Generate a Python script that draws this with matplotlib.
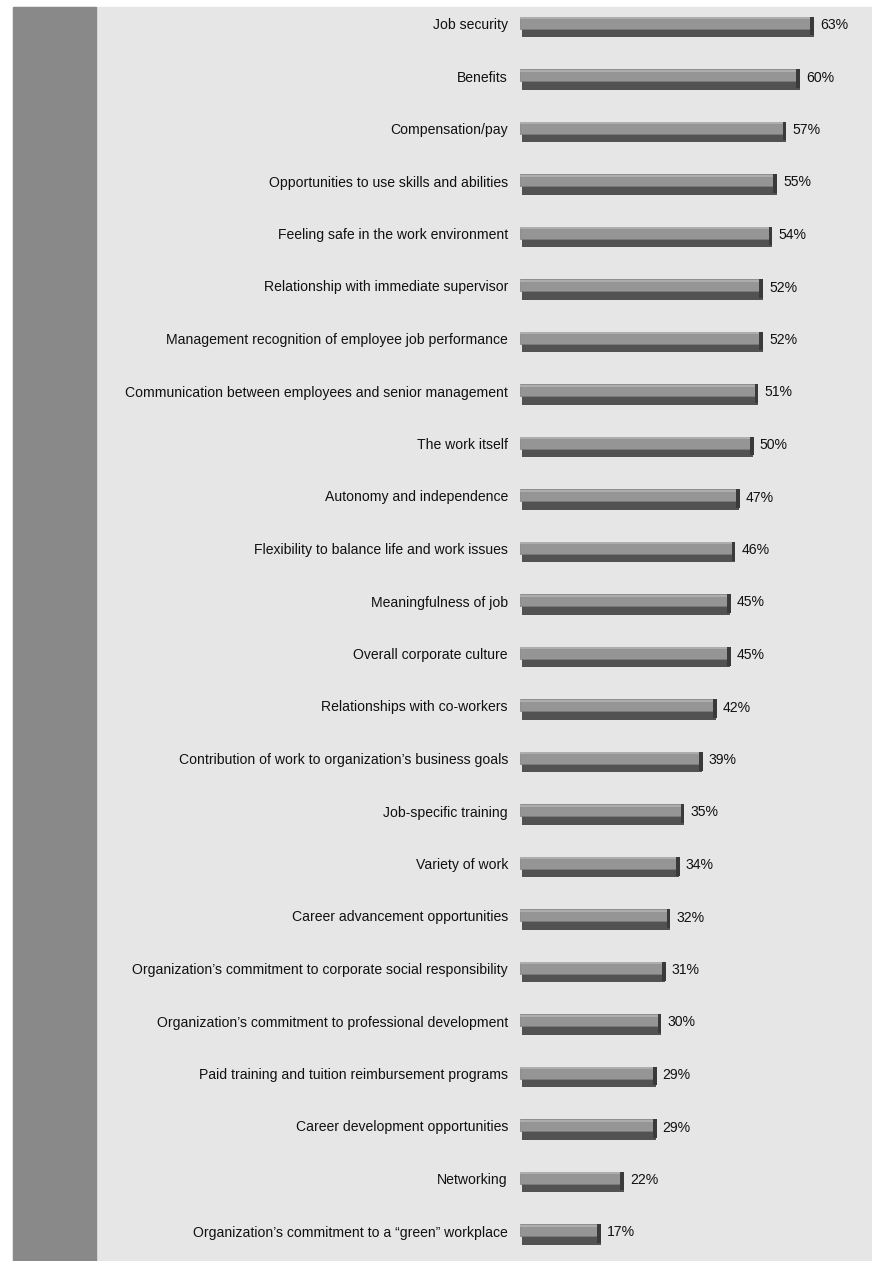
import numpy as np
import matplotlib.pyplot as plt
from matplotlib.patches import Rectangle

factors = ["Job security", "Benefits", "Compensation/pay",
           "Opportunities to use skills and abilities",
           "Feeling safe in the work environment",
           "Relationship with immediate supervisor",
           "Management recognition of employee job performance",
           "Communication between employees and senior management",
           "The work itself", "Autonomy and independence",
           "Flexibility to balance life and work issues",
           "Meaningfulness of job", "Overall corporate culture",
           "Relationships with co-workers",
           "Contribution of work to organization\u2019s business goals",
           "Job-specific training", "Variety of work",
           "Career advancement opportunities",
           "Organization\u2019s commitment to corporate social responsibility",
           "Organization\u2019s commitment to professional development",
           "Paid training and tuition reimbursement programs",
           "Career development opportunities", "Networking",
           "Organization\u2019s commitment to a \u201cgreen\u201d workplace"]
pct = [63, 60, 57, 55, 54, 52, 52, 51, 50, 47, 46, 45, 45, 42, 39, 35, 34, 32, 31, 30, 29, 29, 22, 17]

W, H = 872, 1261
fig = plt.figure(figsize=(W / 100, H / 100), dpi=100, facecolor="white")

# light panel and dark strip on the left
fig.patches.append(Rectangle((13 / W, 0), 1 - 13 / W, 1 - 7 / H, transform=fig.transFigure,
                             color="#e6e6e6", zorder=0))
fig.patches.append(Rectangle((13 / W, 0), 83 / W, 1 - 7 / H, transform=fig.transFigure,
                             color="#898989", zorder=1))

ax = fig.add_axes([0, 0, 1, 1])
ax.set_zorder(5)
ax.set_facecolor("none")
px = 4.63  # pixels per percent
x0 = 520
ax.set_xlim(-x0 / px, (W - x0) / px)
step = 52.5
ax.set_ylim((H - 25) / step, -25 / step)
ax.axis("off")

y = np.arange(len(pct))
vals = np.array(pct)
# dark lower side of each bar
ax.barh(y + 0.04, vals, height=0.38, left=0.4, color="#525252", zorder=2)
# bar face
ax.barh(y - 0.04, vals, height=0.23, color="#959595", edgecolor="#7c7c7c", linewidth=0.5, zorder=3)
# top highlight
ax.barh(y - 0.13, vals, height=0.04, color="#adadad", linewidth=0, zorder=4)
# dark end cap
ax.barh(y + 0.02, 0.8, height=0.36, left=vals - 0.3, color="#3a3a3a", zorder=5)

for i, (name, v) in enumerate(zip(factors, pct)):
    ax.text(-2.6, i, name, ha="right", va="center", fontsize=10.1,
            family="Liberation Sans", color="#111111")
    ax.text(v + 1.8, i, f"{v}%", ha="left", va="center", fontsize=10.1,
            family="Liberation Sans", color="#111111")

fig.savefig("out.png", dpi=100, facecolor=fig.get_facecolor())
